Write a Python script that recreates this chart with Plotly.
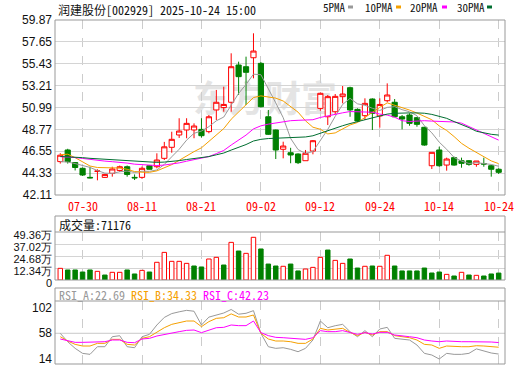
import plotly.graph_objects as go

# ---------------- data ----------------
dates = ["07-25", "07-28", "07-29", "07-30", "07-31", "08-01", "08-04", "08-05", "08-06", "08-07",
         "08-08", "08-11", "08-12", "08-13", "08-14", "08-15", "08-18", "08-19", "08-20", "08-21",
         "08-22", "08-25", "08-26", "08-27", "08-28", "08-29", "09-01", "09-02", "09-03", "09-04",
         "09-05", "09-08", "09-09", "09-10", "09-11", "09-12", "09-15", "09-16", "09-17", "09-18",
         "09-19", "09-22", "09-23", "09-24", "09-25", "09-26", "09-29", "09-30", "10-09", "10-10",
         "10-13", "10-14", "10-15", "10-16", "10-17", "10-20", "10-21", "10-22", "10-23", "10-24"]

open_ = [45.50, 46.68, 45.40, 44.82, 43.90, 44.50, 43.90, 44.31, 44.60, 44.98,
         43.90, 43.90, 45.08, 44.98, 45.83, 46.95, 48.20, 48.71, 48.71, 48.77,
         48.54, 50.74, 50.98, 51.52, 55.30, 55.13, 56.04, 55.47, 50.05, 48.71,
         46.75, 46.40, 46.27, 45.59, 46.57, 50.90, 50.05, 50.56, 52.09, 53.00,
         50.80, 50.16, 51.85, 50.13, 51.68, 51.52, 50.05, 50.23, 49.96, 48.98,
         45.08, 46.68, 45.15, 45.90, 45.59, 45.59, 45.22, 45.30, 45.08, 44.72]
high = [46.35, 46.80, 45.45, 44.90, 44.98, 44.72, 44.25, 44.98, 45.10, 45.10,
        44.20, 45.00, 45.15, 46.34, 47.50, 48.53, 49.90, 49.90, 49.38, 49.90,
        50.23, 52.77, 53.10, 56.49, 55.64, 56.15, 58.52, 55.60, 50.74, 48.75,
        47.52, 46.90, 46.34, 46.68, 47.69, 52.50, 52.26, 52.36, 53.17, 53.10,
        50.90, 51.92, 51.92, 51.92, 53.44, 51.85, 50.23, 50.40, 50.05, 49.04,
        46.44, 47.01, 45.90, 46.00, 45.90, 45.66, 45.56, 45.90, 45.15, 44.82]
low = [45.30, 45.30, 44.60, 44.04, 43.80, 43.60, 43.85, 43.97, 44.45, 43.97,
       43.63, 43.75, 44.70, 44.82, 45.66, 46.40, 47.90, 47.87, 47.87, 47.93,
       48.37, 49.72, 50.56, 50.56, 52.26, 51.24, 53.95, 51.00, 48.20, 45.76,
       45.83, 45.33, 45.25, 45.59, 46.24, 50.66, 49.21, 50.30, 51.41, 50.05,
       49.55, 49.72, 48.71, 48.94, 51.52, 50.05, 48.77, 49.14, 49.04, 47.11,
       44.75, 44.98, 44.58, 45.08, 44.88, 45.08, 44.98, 44.98, 43.97, 44.24]
close = [46.15, 45.50, 44.90, 44.14, 43.85, 44.55, 44.20, 44.75, 44.98, 44.20,
         43.85, 44.82, 44.72, 45.66, 47.00, 47.76, 48.60, 49.38, 49.11, 48.13,
         50.05, 51.52, 51.30, 55.13, 54.12, 54.56, 56.72, 51.07, 48.27, 46.68,
         47.08, 46.17, 45.39, 46.34, 47.62, 52.43, 52.09, 52.12, 52.36, 50.74,
         49.62, 51.41, 50.40, 51.30, 52.26, 50.05, 49.82, 49.38, 49.28, 47.18,
         46.44, 45.08, 45.76, 45.15, 45.32, 45.22, 45.56, 45.25, 44.72, 44.41]

# volume in 万 (10k)
volume = [12.0, 10.3, 10.3, 8.2, 10.3, 8.9, 5.1, 7.9, 7.9, 10.3,
          6.2, 9.9, 8.2, 18.2, 28.4, 19.2, 19.2, 17.1, 14.4, 13.4,
          21.6, 23.3, 15.4, 38.7, 29.8, 27.4, 43.9, 31.9, 16.4, 14.4,
          14.1, 16.4, 9.3, 11.3, 13.0, 23.3, 30.8, 20.2, 17.1, 21.6,
          12.3, 14.1, 14.4, 14.1, 25.4, 14.4, 9.3, 9.3, 9.3, 12.3,
          7.2, 8.2, 5.8, 4.1, 7.9, 5.1, 4.8, 4.1, 6.2, 7.1176]
# volume bar colour as shown (True = red hollow, False = green solid)
vol_up = [True, False, False, False, False, True, False, True, True, False,
          False, True, False, True, True, True, True, True, False, False,
          True, True, False, True, False, True, True, False, False, False,
          True, False, False, True, True, True, False, True, True, False,
          False, True, False, True, True, False, False, False, False, False,
          False, False, True, False, True, False, True, False, False, False]

ma5 = [45.50, 45.45, 45.30, 45.10, 44.91, 44.59, 44.33, 44.30, 44.47, 44.54,
       44.40, 44.52, 44.51, 44.65, 45.21, 45.99, 46.75, 47.68, 48.37, 48.60,
       49.05, 49.64, 50.02, 51.23, 52.42, 53.33, 54.37, 54.32, 52.95, 51.46,
       49.96, 47.85, 46.72, 46.33, 46.52, 47.59, 48.77, 50.09, 51.30, 51.92,
       51.36, 51.22, 50.91, 50.69, 51.00, 51.08, 50.77, 50.56, 50.16, 49.14,
       48.42, 47.47, 46.75, 45.92, 45.55, 45.31, 45.40, 45.30, 45.21, 45.03]
ma10 = [46.20, 46.25, 45.90, 45.45, 45.05, 44.90, 44.88, 44.88, 44.85, 44.72,
        44.49, 44.42, 44.41, 44.56, 44.87, 45.19, 45.63, 46.10, 46.51, 46.90,
        47.52, 48.19, 48.85, 49.80, 50.51, 51.19, 52.00, 52.17, 52.09, 51.94,
        51.65, 51.11, 50.52, 49.64, 48.99, 48.78, 48.31, 48.41, 48.81, 49.22,
        49.47, 50.00, 50.50, 51.00, 51.46, 51.22, 50.99, 50.73, 50.43, 50.07,
        49.75, 49.12, 48.66, 48.04, 47.35, 46.86, 46.44, 46.02, 45.57, 45.29]
ma20 = [46.00, 45.97, 45.91, 45.82, 45.71, 45.64, 45.55, 45.49, 45.44, 45.35,
        45.24, 45.18, 45.12, 45.10, 45.15, 45.24, 45.37, 45.54, 45.70, 45.81,
        46.01, 46.31, 46.63, 47.18, 47.69, 48.19, 48.82, 49.13, 49.30, 49.42,
        49.58, 49.65, 49.69, 49.72, 49.75, 49.98, 50.16, 50.29, 50.45, 50.58,
        50.56, 50.55, 50.51, 50.32, 50.22, 50.00, 49.65, 49.57, 49.62, 49.65,
        49.61, 49.56, 49.58, 49.52, 49.40, 49.04, 48.72, 48.38, 48.00, 47.68]
ma30 = [46.02, 46.00, 45.96, 45.90, 45.83, 45.78, 45.72, 45.68, 45.64, 45.58,
        45.51, 45.47, 45.43, 45.42, 45.45, 45.51, 45.60, 45.71, 45.81, 45.88,
        46.01, 46.19, 46.37, 46.67, 46.94, 47.23, 47.59, 47.76, 47.84, 47.86,
        47.89, 47.91, 47.93, 48.00, 48.12, 48.39, 48.65, 48.89, 49.14, 49.36,
        49.55, 49.77, 49.96, 50.14, 50.32, 50.40, 50.44, 50.44, 50.44, 50.41,
        50.29, 50.08, 49.89, 49.56, 49.27, 48.95, 48.58, 48.39, 48.27, 48.19]

rsi_a = [57.9, 43.7, 32.4, 23.9, 22.2, 35.2, 35.2, 52.2, 53.9, 35.2,
         33.5, 52.2, 56.2, 72.1, 85.0, 91.5, 94.5, 97.0, 95.5, 72.1,
         85.5, 89.0, 92.5, 98.5, 90.5, 92.0, 96.5, 57.9, 35.2, 32.4,
         33.5, 30.7, 26.7, 32.4, 46.6, 78.9, 67.5, 70.9, 73.2, 60.7,
         52.2, 62.5, 52.2, 65.3, 68.1, 49.4, 48.3, 46.6, 38.1, 23.9,
         21.1, 14.3, 23.9, 22.2, 22.2, 23.9, 31.5, 28.0, 24.5, 22.69]
rsi_b = [52.2, 44.9, 39.2, 36.4, 36.4, 40.9, 40.9, 47.7, 47.7, 39.2,
         38.1, 49.4, 52.2, 59.6, 67.5, 73.2, 76.0, 78.9, 78.9, 69.3,
         77.8, 83.4, 84.5, 91.0, 85.7, 85.7, 89.1, 57.9, 48.3, 44.9,
         44.9, 43.7, 40.9, 40.9, 48.3, 66.4, 63.6, 65.3, 66.4, 59.6,
         54.0, 59.6, 55.1, 60.8, 60.8, 54.0, 52.2, 50.5, 46.6, 39.2,
         38.1, 32.4, 36.4, 35.2, 35.2, 35.2, 36.9, 36.4, 35.0, 34.33]
rsi_c = [48.3, 45.5, 42.6, 42.6, 42.6, 43.7, 43.7, 46.6, 46.6, 42.6,
         42.0, 48.3, 49.4, 53.4, 56.2, 59.1, 60.8, 63.0, 63.6, 59.1,
         63.6, 67.5, 68.1, 72.1, 71.0, 71.0, 78.9, 59.1, 54.0, 51.1,
         50.5, 49.4, 47.7, 47.7, 50.5, 62.5, 60.8, 60.8, 62.5, 59.1,
         56.2, 59.1, 56.8, 59.6, 59.6, 55.1, 54.0, 52.2, 50.5, 46.6,
         44.9, 43.7, 44.9, 43.7, 43.7, 43.7, 43.7, 43.7, 43.2, 42.23]

price_ticks = [42.11, 44.33, 46.55, 48.77, 50.99, 53.21, 55.43, 57.65, 59.87]
price_tick_text = ["42.11", "44.33", "46.55", "48.77", "50.99", "53.21", "55.43", "57.65", "59.87"]
vol_ticks = [0, 12.34, 24.68, 37.02, 49.36]
vol_tick_text = ["0", "12.34万", "24.68万", "37.02万", "49.36万"]
rsi_ticks = [14, 58, 102]
rsi_tick_text = ["14", "58", "102"]
date_ticks = ["07-30", "08-11", "08-21", "09-02", "09-12", "09-24", "10-14", "10-24"]

title_text = "润建股份[002929] 2025-10-24 15:00"
vol_header = "成交量:71176"
rsi_headers = ["RSI_A:22.69", "RSI_B:34.33", "RSI_C:42.23"]
ma_names = ["5PMA", "10PMA", "20PMA", "30PMA"]
watermark = "东方财富"

# ---------------- style ----------------
W, H = 520, 365
ML, MR = 55, 15
PW = W - ML - MR
RED = "#ff0000"
GREEN = "#008000"
MA_COLORS = ["#999999", "#f5a000", "#ff00ff", "#006e30"]
RSI_COLORS = ["#999999", "#f5a000", "#ff00ff"]
FRAME = "#999999"
MONO = "Noto Sans Mono CJK SC, Noto Sans CJK SC, DejaVu Sans Mono, monospace"
SANS = "Liberation Sans, Arial, sans-serif"


def px_x(x):
    return (x - ML) / PW


def px_y(y):
    return 1 - y / H


fig = go.Figure()

fig.add_trace(go.Candlestick(
    x=dates, open=open_, high=high, low=low, close=close,
    increasing=dict(line=dict(color=RED, width=1), fillcolor="#ffffff"),
    decreasing=dict(line=dict(color=GREEN, width=1), fillcolor=GREEN),
    whiskerwidth=0, xaxis="x", yaxis="y", showlegend=False, hoverinfo="skip"))

for vals, col in zip([ma5, ma10, ma20, ma30], MA_COLORS):
    fig.add_trace(go.Scatter(x=dates, y=vals, mode="lines", line=dict(color=col, width=1),
                             xaxis="x", yaxis="y", showlegend=False, hoverinfo="skip"))

fig.add_trace(go.Bar(
    x=dates, y=volume, width=0.6,
    marker=dict(color=["#ffffff" if u else GREEN for u in vol_up],
                line=dict(color=[RED if u else GREEN for u in vol_up], width=1)),
    xaxis="x2", yaxis="y2", showlegend=False, hoverinfo="skip"))

for vals, col in zip([rsi_a, rsi_b, rsi_c], RSI_COLORS):
    fig.add_trace(go.Scatter(x=dates, y=vals, mode="lines", line=dict(color=col, width=1),
                             xaxis="x3", yaxis="y3", showlegend=False, hoverinfo="skip"))

xcommon = dict(type="category", categoryorder="array", categoryarray=dates,
               range=[-0.71, 59.85], tickmode="array", tickvals=date_ticks, ticktext=date_ticks,
               showgrid=True, gridcolor="#cccccc", griddash="dash", gridwidth=1,
               showline=False, zeroline=False, ticks="", showticklabels=False, fixedrange=True)
ycommon = dict(zeroline=False, showline=False, ticks="", ticklabelstandoff=2,
               ticklabeloverflow="allow", fixedrange=True)

fig.update_layout(
    width=W, height=H,
    margin=dict(l=ML, r=MR, t=0, b=0, autoexpand=False),
    paper_bgcolor="#ffffff", plot_bgcolor="#ffffff",
    boxgap=0.3, boxgroupgap=0, bargap=0.3,
    xaxis=dict(**xcommon, anchor="y", domain=[0, 1], rangeslider=dict(visible=False)),
    xaxis2=dict(**xcommon, anchor="y2", domain=[0, 1], matches="x"),
    xaxis3=dict(**xcommon, anchor="y3", domain=[0, 1], matches="x"),
    yaxis=dict(**ycommon, domain=[px_y(195), px_y(20)], range=[42.11, 59.87], tickmode="array",
               tickvals=price_ticks, ticktext=price_tick_text, showgrid=True, gridcolor="#d4d4d4",
               tickfont=dict(family=SANS, size=12, color="#111111")),
    yaxis2=dict(**ycommon, domain=[px_y(280), px_y(232)], range=[0, 49.36], tickmode="array",
                tickvals=vol_ticks, ticktext=vol_tick_text, showgrid=True, gridcolor="#d4d4d4",
                ticklabelshift=3, tickfont=dict(family=SANS, size=11, color="#111111")),
    yaxis3=dict(**ycommon, domain=[px_y(364), px_y(301)], range=[5.8, 112.9], tickmode="array",
                tickvals=rsi_ticks, ticktext=rsi_tick_text, showgrid=False,
                tickfont=dict(family=SANS, size=12, color="#111111")),
    hovermode=False,
)

shapes = []
# watermark (behind data)
shapes.append(dict(type="rect", xref="paper", yref="paper",
                   x0=px_x(190), x1=px_x(340), y0=px_y(122), y1=px_y(82),
                   line=dict(width=0), fillcolor="rgba(0,0,0,0)", layer="below",
                   label=dict(text=watermark, textposition="middle center",
                              font=dict(family="Noto Sans CJK SC", size=36, color="#e4e4e4",
                                        weight="bold"))))
# RSI 58 reference line
shapes.append(dict(type="line", xref="paper", yref="y3", x0=0, x1=1, y0=58, y1=58,
                   line=dict(color="#c8c8c8", width=1), layer="below"))
# frames
for y0, y1 in [(20, 195), (216, 280), (288, 364)]:
    shapes.append(dict(type="rect", xref="paper", yref="paper", x0=0, x1=1,
                       y0=px_y(y1), y1=px_y(y0), line=dict(color=FRAME, width=1),
                       fillcolor="rgba(0,0,0,0)", layer="above"))
for yy in [232, 301]:
    shapes.append(dict(type="line", xref="paper", yref="paper", x0=0, x1=1,
                       y0=px_y(yy), y1=px_y(yy), line=dict(color=FRAME, width=1), layer="above"))
# legend swatches
for xs, col in zip([348, 396, 442, 487], MA_COLORS):
    shapes.append(dict(type="rect", xref="paper", yref="paper", x0=px_x(xs), x1=px_x(xs + 5),
                       y0=px_y(8.5), y1=px_y(5.5), line=dict(width=0), fillcolor=col))
fig.update_layout(shapes=shapes)

ann = []
ann.append(dict(text=title_text, x=px_x(56), y=px_y(9), xref="paper", yref="paper",
                xanchor="left", yanchor="middle", showarrow=False,
                font=dict(family=MONO, size=12, color="#111111")))
for xs, name in zip([321, 363, 408, 455], ma_names):
    ann.append(dict(text=name, x=px_x(xs), y=px_y(7.5), xref="paper", yref="paper",
                    xanchor="left", yanchor="middle", showarrow=False,
                    font=dict(family=MONO, size=11, color="#111111")))
# date labels under the price panel
for d in date_ticks:
    ann.append(dict(text=d, x=d, y=px_y(205), xref="x", yref="paper",
                    xanchor="center", yanchor="middle", showarrow=False,
                    font=dict(family=MONO, size=12, color=RED)))
ann.append(dict(text=vol_header, x=px_x(57), y=px_y(224), xref="paper", yref="paper",
                xanchor="left", yanchor="middle", showarrow=False,
                font=dict(family=MONO, size=12, color="#111111")))
for xs, txt, col in zip([57, 129, 201], rsi_headers, RSI_COLORS):
    ann.append(dict(text=txt, x=px_x(xs), y=px_y(294.5), xref="paper", yref="paper",
                    xanchor="left", yanchor="middle", showarrow=False,
                    font=dict(family=MONO, size=12, color=col)))
fig.update_layout(annotations=ann)

fig.write_html("out.html")
